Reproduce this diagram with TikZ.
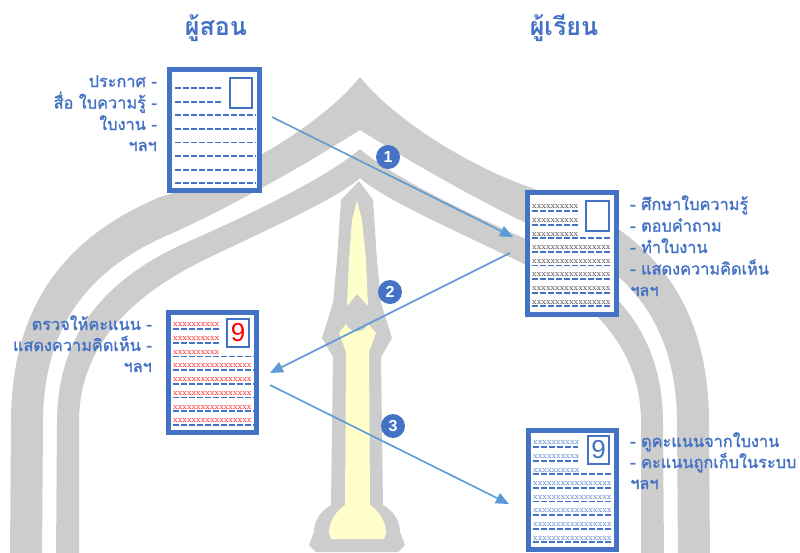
\documentclass[tikz,border=0pt]{standalone}
\usepackage{fontspec}
\newfontfamily\thai[Script=Thai]{Loma}
\newfontfamily\thaimed[Script=Thai,FakeBold=1.6]{Loma}
\newfontfamily\numfont{Liberation Sans}
\usetikzlibrary{arrows.meta}
\definecolor{docblue}{HTML}{4472C4}
\definecolor{arrowblue}{HTML}{5B9BD5}
\definecolor{archgray}{HTML}{CDCDCD}
\definecolor{spireyellow}{HTML}{FFFFCC}
\definecolor{markred}{HTML}{FF0000}

\begin{document}
\begin{tikzpicture}[x=1pt,y=-1pt,
  note/.style={font=\thaimed\fontsize{16.3}{18}\selectfont, text=docblue, inner sep=0pt},
  heading/.style={font=\thai\bfseries\fontsize{25}{27}\selectfont, text=docblue, inner sep=0pt},
  sheet/.style={draw=docblue, line width=5pt, fill=white, inner sep=0pt},
  slot/.style={draw=docblue, line width=2pt, fill=white, inner sep=0pt},
  rule/.style={docblue, line width=1.8pt, dash pattern=on 5.5pt off 2.5pt},
  xs/.style={font=\fontsize{8.5}{8.5}\selectfont, inner sep=0pt, anchor=base west},
  flow/.style={arrowblue, line width=1.6pt, -{Triangle[length=13pt,width=11pt]}},
  badge/.style={circle, fill=docblue, text=white, font=\numfont\bfseries\fontsize{16}{16}\selectfont, minimum size=24pt, inner sep=0pt},
]
\useasboundingbox (0,0) rectangle (800,552);
\clip (0,0) rectangle (800,552);

% ---- arch: outer band ----
\fill[archgray] (10,560) -- (11,420) .. controls (12,300) and (70,235) .. (160,197)
  .. controls (250,172) and (330,115) .. (360,77)
  .. controls (390,115) and (470,172) .. (560,197)
  .. controls (650,235) and (708,300) .. (709,420) -- (710,560)
  -- (678,560) -- (677,420) .. controls (676,320) and (625,265) .. (545,232)
  .. controls (465,195) and (395,152) .. (360,130)
  .. controls (325,152) and (255,195) .. (175,232)
  .. controls (95,265) and (44,320) .. (43,420) -- (42,560) -- cycle;

% ---- arch: inner band ----
\fill[archgray] (56,560) -- (57,420) .. controls (58,330) and (110,275) .. (192,240)
  .. controls (262,209) and (330,175) .. (360,149)
  .. controls (390,175) and (458,209) .. (528,240)
  .. controls (610,275) and (662,330) .. (663,420) -- (664,560)
  -- (641,560) -- (641,420) .. controls (640,350) and (595,300) .. (520,262)
  .. controls (450,228) and (385,200) .. (360,178)
  .. controls (335,200) and (270,228) .. (200,262)
  .. controls (125,300) and (80,350) .. (79,420) -- (79,560) -- cycle;

% ---- spire ----
\fill[archgray] (359,181) -- (373,200) -- (377,260) -- (381,303) -- (392,338) -- (381,357)
  -- (383,505) .. controls (395,512) and (400,522) .. (400,532) -- (405,545) -- (398,552)
  -- (316,552) -- (309,545) -- (314,532) .. controls (314,522) and (319,512) .. (331,505)
  -- (333,357) -- (322,338) -- (333,303) -- (337,260) -- (341,200) -- cycle;
\fill[spireyellow] (357,201) -- (362,220) -- (366,260) -- (368,306) -- (357,294)
  -- (347,306) -- (349,260) -- (352,220) -- cycle;
\fill[spireyellow] (339,333) -- (346,324) .. controls (350,334) and (364,334) .. (368,324)
  -- (376,333) -- (369,352) -- (370,505) .. controls (380,512) and (386,522) .. (386,533)
  -- (384,539) -- (331,539) -- (329,533) .. controls (329,522) and (335,512) .. (345,505)
  -- (346,352) -- cycle;

% ---- headings ----
\node[heading, anchor=base] (teacher) at (216,35) {ผู้สอน};
\node[heading, anchor=base] (learner) at (564,35) {ผู้เรียน};

% ---- flow arrows ----
\coordinate (f1s) at (272,117); \coordinate (f1e) at (513,237);
\coordinate (f2s) at (510,253); \coordinate (f2e) at (270,373);
\coordinate (f3s) at (270,385); \coordinate (f3e) at (509,504);
\draw[flow] (f1s) -- (f1e);
\draw[flow] (f2s) -- (f2e);
\draw[flow] (f3s) -- (f3e);

% ---- sheet 1: handout ----
\node[sheet, minimum width=90pt, minimum height=121pt] (d1) at (214.5,130) {};
\node[slot, minimum width=22pt, minimum height=30pt] (d1s) at (241,93) {};
\foreach \i in {0,...,7} {
  \pgfmathsetmacro{\yy}{88+13.6*\i}
  \ifnum\i<2
    \draw[rule] (175,\yy) -- (222,\yy);
  \else
    \draw[rule] (175,\yy) -- (256,\yy);
  \fi
}

% ---- sheet 2: learner's work ----
\node[sheet, minimum width=89pt, minimum height=122pt] (d2) at (572,253.5) {};
\node[slot, minimum width=23pt, minimum height=30pt] (d2s) at (597.5,216) {};
\foreach \i in {0,...,7} {
  \pgfmathsetmacro{\yy}{211+13.6*\i}
  \ifnum\i<3
    \node[xs, text=black!80] at (532,\yy-2.2) {xxxxxxxxxx};
  \else
    \node[xs, text=black!80] at (532,\yy-2.2) {xxxxxxxxxxxxxxxxx};
  \fi
  \ifnum\i<2
    \draw[rule] (532,\yy) -- (578,\yy);
  \else
    \draw[rule] (532,\yy) -- (612,\yy);
  \fi
}

% ---- sheet 3: marked work ----
\node[sheet, minimum width=88pt, minimum height=120pt] (d3) at (212.5,372.5) {};
\node[slot, minimum width=22pt, minimum height=28pt] (d3s) at (238,333) {};
\node[font=\numfont\fontsize{26}{26}\selectfont, text=markred, inner sep=0pt] (d3n) at (238,333) {9};
\foreach \i in {0,...,7} {
  \pgfmathsetmacro{\yy}{329+13.7*\i}
  \ifnum\i<3
    \node[xs, text=markred] at (173,\yy-2.2) {xxxxxxxxxx};
  \else
    \node[xs, text=markred] at (173,\yy-2.2) {xxxxxxxxxxxxxxxxx};
  \fi
  \ifnum\i<2
    \draw[rule] (173,\yy) -- (220,\yy);
  \else
    \draw[rule] (173,\yy) -- (254,\yy);
  \fi
}

% ---- sheet 4: recorded score ----
\node[sheet, minimum width=88pt, minimum height=119pt] (d4) at (572.5,490) {};
\node[slot, minimum width=21pt, minimum height=28pt] (d4s) at (598.5,450) {};
\node[font=\numfont\fontsize{26}{26}\selectfont, text=docblue, inner sep=0pt] (d4n) at (598.5,450) {9};
\foreach \i in {0,...,7} {
  \pgfmathsetmacro{\yy}{447+13.6*\i}
  \ifnum\i<3
    \node[xs, text=docblue] at (533,\yy-2.2) {xxxxxxxxxx};
  \else
    \node[xs, text=docblue] at (533,\yy-2.2) {xxxxxxxxxxxxxxxxx};
  \fi
  \ifnum\i<2
    \draw[rule] (533,\yy) -- (578,\yy);
  \else
    \draw[rule] (533,\yy) -- (612,\yy);
  \fi
}

% ---- captions ----
\node[note, anchor=base east] (c1a) at (157,87) {ประกาศ -};
\node[note, anchor=base east] (c1b) at (157,108.5) {สื่อ ใบความรู้ -};
\node[note, anchor=base east] (c1c) at (157,130) {ใบงาน -};
\node[note, anchor=base east] (c1d) at (157,151) {ฯลฯ};

\node[note, anchor=base west] (c2a) at (630,210) {- ศึกษาใบความรู้};
\node[note, anchor=base west] (c2b) at (630,231.5) {- ตอบคำถาม};
\node[note, anchor=base west] (c2c) at (630,253) {- ทำใบงาน};
\node[note, anchor=base west] (c2d) at (630,274.5) {- แสดงความคิดเห็น};
\node[note, anchor=base west] (c2e) at (630,296) {ฯลฯ};

\node[note, anchor=base east] (c3a) at (152,330) {ตรวจให้คะแนน -};
\node[note, anchor=base east] (c3b) at (152,351) {แสดงความคิดเห็น -};
\node[note, anchor=base east] (c3c) at (152,372) {ฯลฯ};

\node[note, anchor=base west] (c4a) at (630,447) {- ดูคะแนนจากใบงาน};
\node[note, anchor=base west] (c4b) at (630,468) {- คะแนนถูกเก็บในระบบ};
\node[note, anchor=base west] (c4c) at (630,489) {ฯลฯ};

% ---- step badges ----
\node[badge] (b1) at (388,157) {1};
\node[badge] (b2) at (390,292) {2};
\node[badge] (b3) at (393,426) {3};
\end{tikzpicture}
\end{document}
